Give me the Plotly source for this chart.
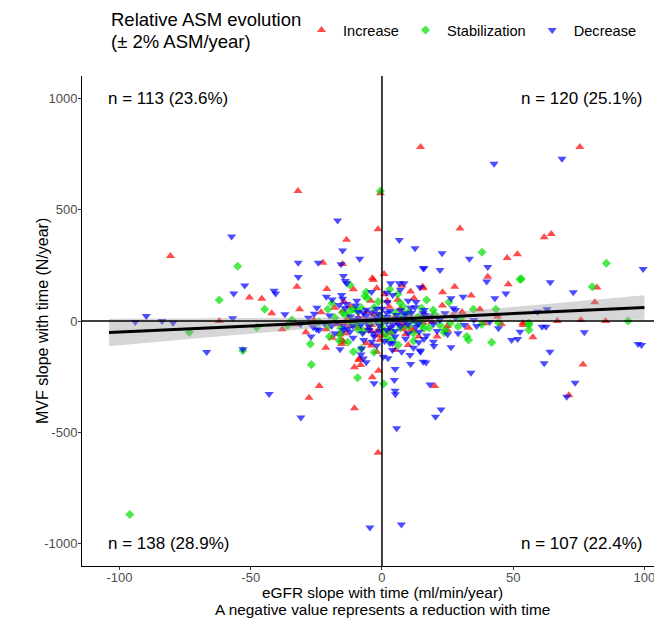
import numpy as np
import plotly.graph_objects as go

# ASM evolution groups, eGFR slope (x) vs MVF slope (y)
inc_x = [-80.6, -50.5, -62, -32, -13.5, -22.5, -15, -32.4, -21, -45.8, -14.5, -31.4, -23.2, -38, -21.3,
         -21.4, -15.4, -23.9, -27.8, 14.7, -0.6, -1.5, -3.7, 0.8, 7.6, 15.5, -2, 29.7, 47.7, 51.6, 40.3,
         15.7, 27.7, 48.1, 23.1, 34, 37.3, 30.5, 75.4, 61.8, 64.5, 81.9, 81.1, 66.8, 75.8, 85.2, 53.7,
         53.7, 57.5, 76.6, 71.2, 24.9, 24.9, 38.9, 45.5, 20.1, -8.8, -8.1, -10.5, -1.3, -3.7, -10.5, -1.5,
         -10.9, -3.3, 10.9, -4.3, 2.8, 12.2, -15, -14.7, -3.9, 6.2, 15.7, -15.4, -5.2, -1.4, 0.3, 8.1,
         11.3, -8.6, -14.7, -0.8, 10, -2, -13, -7, -3, 1, 5, 8, 11, -9, -4, 3, 9, -12, 6, -6, 1, 14,
         -16, 17, -26, -17, -29, 19, 27, 23, -6, 4, -11,
         -18, -12, -6, -2, 3, 7, 12, 16, -9, -4, 2, 9, -14, 5, 21, 33, -33, -42, 44, -19]
inc_y = [292, 106, 0, 584, 365, 262, 256, 154, 144, 100, 87, 53, 39, -37, -37,
         -120, -103, -292, -345, 781, 574, 412, 192, 211, 159, 154, 147, 415, 283, 300, 199,
         147, 154, 165, 129, 114, 53, 40, 781, 376, 391, 150, 84, 0, 4, 0, -9,
         -18, -73, -195, -333, -22, -40, -10, -13, -292, -175, -198, -208, -223, -253, -392, -592,
         142, 184, 132, 91, 64, 102, 46, -10, -18, -8, -8, -85, -33, -40, -63, -37,
         -37, -168, -93, -85, -108, -138, 12, 5, 28, -5, 20, -12, 15, -30, -45, -55, -60, 65, 95, -100, 120, -70,
         -60, 10, 5, -15, -50, -5, 25, 70, 0, 2, -2,
         60, -20, 40, -65, -35, 55, -45, 30, 15, -110, 90, -25, -55, -130, -70, -30, -15, 35, 20, -75]

stab_x = [-55, -62, -73.4, -53, -96.1, -44.7, -20.6, -34.3, -15, -47.7, -20.5, -15.7, -27.3, -16.3, -26.9,
          -0.6, -12.2, 3, 38.1, 52.6, 17, 25.5, 19.5, 34.8, 43.4, 85.5, 53.1, 80.1, 93.8, 56, 56, 56,
          15.1, 16, 22.1, 23.7, 44.4, 32.3, 33, 41.8, -9.3, 0.6, -6.5, -5.6, -1.4, 6.9, 8.1, 15.1,
          -12.2, -9.6, 5, 13.8, -12.2, -8.4, -0.1, 11.3, -9, 3.7, -10.9, 6.2, -14, -10, -5, -1, 3, 7,
          10, 13, -8, 2, -3, 12, -18, 18, -24, -19, 20, 26, 29, -2, 1,
          -16, -11, -7, -3, 0, 4, 8, 12, 15, -13, -6, 1, 6, 10, -20, 24, 30, -36, 38, -8]
stab_y = [246, 94, -51, -133, -869, 53, 53, 4, 37, -28, -22, -33, -103, -88, -196,
          584, 162, 142, 309, 187, 94, 84, 49, 53, 53, 259, 189, 154, 0, -9, -18, -40,
          -18, -33, -18, -52, -8, -70, -85, -96, -255, -282, 112, 102, 87, 82, 64, 57,
          42, 46, 37, 19, -4, -10, -10, 4, -40, -48, -138, -108, 28, -12, -8, 25, 5, -30,
          40, -5, 60, -75, -140, -90, 15, -30, -5, 80, 30, -10, -25, -1, 8,
          -60, 55, -45, 60, -30, -85, 25, -55, 10, -95, 130, -50, 120, -25, -70, -40, 10, -20, -15, -125]

dec_x = [-57.3, -52.3, -56.5, -89.8, -94, -83.8, -79.6, -56.9, -66.8, -53, -16.9, -15, -31.9, -24.3, -15.6,
         -31.9, -14.7, -14, -41.1, -40.5, -21.2, -19, -16.3, -24.8, -25.8, -26.2, -24.9, -19.2, -14.7, -16,
         -43, -30.9, 6.6, 12.6, -8.5, 15.7, -13.5, 3.3, 6.6, 8.4, 42.7, 22.9, 33.3, 16, 22.1, 40.3, 39.9,
         26.3, 30.9, 43, 47.2, 16.1, 27.2, 28.1, 15.7, 68.6, 99.5, 64.1, 72.9, 59.3, 62.9, 52.6, 51.7, 61,
         62.5, 77.1, 97.6, 98.9, 64, 61.8, 73.6, 70.4, 19.6, 31.4, 36.1, 44.4, 49.4, 16, 19.6, 19.8, 26.3,
         14.7, 16.8, 33.9, 18.3, 22.5, 20.4, -3, 4.7, 5, 5.1, 5.6, -4.6, 7.4, 2.3, 10.9, 15.7,
         14.5, -15.4, -13.5, -9.6, 1.8, 4.1, 10, 12.6, -7.1, -3.9, -1.4, 1.8, 5.6, 8.8, 11.3, 16.4,
         -10.3, -5.8, -2.3, 1.8, 4.3, 8.8, 13.8, -14.7, -12.2, -7.4, -3.3, 1.8, 5, 10, 14.2,
         -7.7, -7.1, -3.9, 3, 7.5, 10.7, 14.5, 0.5, -12, -9, -6, -4, -2, 0, 2, 4, 6, 9, 12,
         -11, -8, -5, -1, 3, 7, 10, 13, -14, -6, 0, 7, -3, 5, -10, 2, -7, 9, -2, 4,
         -28, -22, -18, -27, -20, 18, 22, 25, 28, 21,
         -17, -13, -9, -5, -1, 3, 6, 11, 14, 17, -15, -8, -2, 4, 9, 13, -11, -4, 1, 7,
         -24, -31, -37, 24, 29, 35, 41, -6, 5, 12]
dec_y = [379, 159, 123, 22, -4, 0, -8, 12, -139, -127, 451, 316, 262, 262, 255,
         198, 202, 180, 136, 123, 109, 96, 72, 60, 33, -28, -37, -22, -22, -127,
         -328, -433, 364, 327, 279, 237, 169, 169, 169, 169, 706, 304, 279, 237, 229, 243, 177,
         102, 109, 102, 124, 49, 57, 49, 35, 728, 234, 174, 129, 42, 53, -48, -81, -26,
         -26, -51, -103, -108, -138, -190, -277, -340, -13, -18, -22, -33, -85, -81, -93, -112, -118,
         -138, -186, -232, -285, -397, -430, -280, -265, -313, -329, -482, -927, -914, -167, -193, -183,
         151, 117, 76, 91, 127, 117, 91, 62, 35, 39, 31, 37, 27, 35, 37, 27,
         4, -3, 4, -3, -18, -3, -13, -40, -48, -55, -55, -40, -70, -55, -48,
         -123, -168, -93, -100, -138, -153, -133, -160, 20, 12, 22, 8, 15, 10, 18, 6, 14, 10, 8,
         -22, -18, -25, -20, -28, -22, -15, -26, 58, 50, 55, 48, -70, -45, 70, 85, -85, -80, -110, -130,
         15, -10, -55, -70, 25, 20, 5, -60, 15, -45,
         -5, -35, 40, -40, -45, 45, -10, 60, -95, -65, 100, -150, 55, -100, 25, 85, -75, 130, -90, 140,
         -40, -15, 30, 35, -55, 5, -5, -185, -215, -120]

groups = ['Increase', 'Stabilization', 'Decrease']
colors = ['#FF0000', '#00E000', '#0000FF']
symbols = ['triangle-up', 'diamond', 'triangle-down']

legend_title = ['Relative ASM evolution', '(± 2% ASM/year)']
quad_labels = ['n = 113 (23.6%)', 'n = 120 (25.1%)', 'n = 138 (28.9%)', 'n = 107 (22.4%)']
fit_range = [-104, 100]

x_ticks = [-100, -50, 0, 50, 100]
y_ticks = [-1000, -500, 0, 500, 1000]

font = 'Liberation Sans, Arial, sans-serif'

# the page body adds an 8px margin, so the figure is sized a bit smaller
W, H = 654, 615
L, T, B = 74, 68, 57
PW, PH = W - L, H - T - B

fig = go.Figure()

for name, gx, gy, col, sym in zip(groups, [inc_x, stab_x, dec_x], [inc_y, stab_y, dec_y], colors, symbols):
    fig.add_trace(go.Scatter(
        x=gx, y=gy, mode='markers', name=name,
        marker=dict(symbol=sym, color=col, size=8 if sym != 'diamond' else 7,
                    opacity=0.7, line=dict(width=0)),
        hoverinfo='skip'
    ))

# linear fit with 95% band, like geom_smooth(method = "lm")
all_x = np.array(inc_x + stab_x + dec_x, dtype=float)
all_y = np.array(inc_y + stab_y + dec_y, dtype=float)
slope, intercept = np.polyfit(all_x, all_y, 1)
resid = all_y - (intercept + slope * all_x)
n = len(all_x)
sigma = np.sqrt((resid ** 2).sum() / (n - 2))
sxx = ((all_x - all_x.mean()) ** 2).sum()
gx = np.linspace(fit_range[0], fit_range[1], 80)
gy = intercept + slope * gx
se = sigma * np.sqrt(1 / n + (gx - all_x.mean()) ** 2 / sxx)
lo, hi = gy - 1.965 * se, gy + 1.965 * se

fig.add_trace(go.Scatter(
    x=np.concatenate([gx, gx[::-1]]), y=np.concatenate([hi, lo[::-1]]),
    fill='toself', fillcolor='rgba(153,153,153,0.4)', line=dict(width=0),
    mode='lines', showlegend=False, hoverinfo='skip'
))
fig.add_trace(go.Scatter(
    x=gx, y=gy, mode='lines', line=dict(color='black', width=3),
    showlegend=False, hoverinfo='skip'
))

fig.add_hline(y=0, line=dict(color='black', width=1.5))
fig.add_vline(x=0, line=dict(color='black', width=1.5))

for txt, ax, ay, anc in zip(quad_labels, [-105, 100, -105, 100], [1000, 1000, -1000, -1000],
                            ['left', 'right', 'left', 'right']):
    fig.add_annotation(x=ax, y=ay, text=txt, showarrow=False, xanchor=anc,
                       font=dict(family=font, size=17, color='black'))


def px_x(p):
    return (p - 8 - L) / PW


def px_y(p):
    return (T + PH - (p - 8)) / PH


# axis titles and legend title, positioned in window pixels
fig.add_annotation(xref='paper', yref='paper', x=px_x(382), y=px_y(592), yanchor='middle', showarrow=False,
                   text='eGFR slope with time (ml/min/year)', font=dict(size=15.4, color='black'))
fig.add_annotation(xref='paper', yref='paper', x=px_x(382), y=px_y(609), yanchor='middle', showarrow=False,
                   text='A negative value represents a reduction with time', font=dict(size=15.4, color='black'))
fig.add_annotation(xref='paper', yref='paper', x=px_x(42), y=0.5, xanchor='center', textangle=-90,
                   showarrow=False, text='MVF slope with time (N/year)', font=dict(size=16, color='black'))
for line, py in zip(legend_title, [20, 41]):
    fig.add_annotation(xref='paper', yref='paper', x=px_x(109), y=px_y(py), xanchor='left', yanchor='middle',
                       showarrow=False, text=line, font=dict(size=18.5, color='black'))

fig.update_layout(
    width=W, height=H,
    margin=dict(l=L, r=0, t=T, b=B),
    plot_bgcolor='white', paper_bgcolor='white',
    font=dict(family=font, color='black'),
    legend=dict(
        orientation='h', xref='container', yref='container', x=(300 - 8) / W, y=1 - (30 - 8) / H,
        xanchor='left', yanchor='middle', itemwidth=33,
        font=dict(size=14.6, color='black'),
    ),
    xaxis=dict(
        range=[-114.3, 106.7], tickvals=x_ticks, ticktext=[str(v) for v in x_ticks],
        showgrid=False, zeroline=False, showline=True, linecolor='black', linewidth=1,
        ticks='outside', ticklen=3, tickcolor='#333333', automargin=False, ticklabelstandoff=-4,
        tickfont=dict(size=13, color='#4D4D4D'),
    ),
    yaxis=dict(
        range=[-1100, 1100], tickvals=y_ticks, ticktext=[str(v) for v in y_ticks],
        showgrid=False, zeroline=False, showline=True, linecolor='black', linewidth=1,
        ticks='outside', ticklen=3, tickcolor='#333333', automargin=False, ticklabelstandoff=-2,
        tickfont=dict(size=13, color='#4D4D4D'),
    ),
)

fig.write_html('out.html')
